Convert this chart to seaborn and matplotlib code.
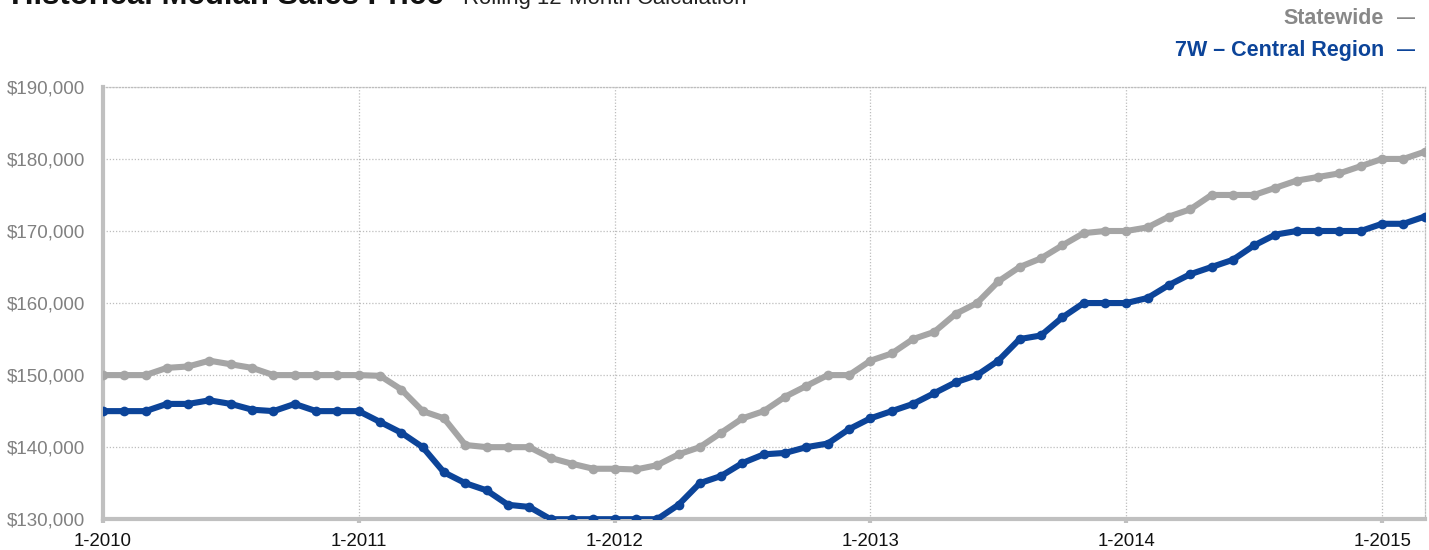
import matplotlib
matplotlib.use('Agg')
import matplotlib.pyplot as plt
import numpy as np
import pandas as pd
import seaborn as sns

sns.set_style('white')
plt.rcParams['font.family'] = ['Liberation Sans', 'DejaVu Sans']

# monthly values, Jan 2010 .. Mar 2015
statewide = [150000, 150000, 150000, 151000, 151200, 152000, 151500, 151000, 150000, 150000, 150000, 150000,
             150000, 149900, 148000, 145000, 144000, 140300, 140000, 140000, 140000, 138500, 137700, 137000,
             137000, 136900, 137500, 139000, 140000, 142000, 144000, 145000, 147000, 148500, 150000, 150000,
             152000, 153000, 155000, 156000, 158500, 160000, 163000, 165000, 166200, 168000, 169700, 170000,
             170000, 170500, 172000, 173000, 175000, 175000, 175000, 176000, 177000, 177500, 178000, 179000,
             180000, 180000, 181000]
central = [145000, 145000, 145000, 146000, 146000, 146500, 146000, 145200, 145000, 146000, 145000, 145000,
           145000, 143500, 142000, 140000, 136500, 135000, 134000, 132000, 131700, 130000, 130000, 130000,
           130000, 130000, 130000, 132000, 135000, 136000, 137800, 139000, 139200, 140000, 140500, 142500,
           144000, 145000, 146000, 147500, 149000, 150000, 152000, 155000, 155500, 158000, 160000, 160000,
           160000, 160700, 162500, 164000, 165000, 166000, 168000, 169500, 170000, 170000, 170000, 170000,
           171000, 171000, 172000]
year_labels = ['1-2010', '1-2011', '1-2012', '1-2013', '1-2014', '1-2015']
y_ticks = [130000, 140000, 150000, 160000, 170000, 180000, 190000]

gray = '#a5a5a5'
blue = '#0c4499'

month = np.arange(len(statewide))
df = pd.DataFrame({
    'month': np.concatenate([month, month]),
    'price': statewide + central,
    'series': ['Statewide'] * len(statewide) + ['7W – Central Region'] * len(central),
})

fig = plt.figure(figsize=(14.29, 5.5), dpi=100)
ax = fig.add_axes([0.072, 0.056, 0.925, 0.786])

sns.lineplot(data=df, x='month', y='price', hue='series',
             palette={'Statewide': gray, '7W – Central Region': blue},
             linewidth=4.4, marker='o', markersize=7, markeredgewidth=0,
             legend=False, ax=ax, zorder=3)

ax.set_xlim(0, len(statewide) - 1)
ax.set_ylim(130000, 190000)
ax.set_xticks(np.arange(0, len(statewide), 12))
ax.set_xticklabels(year_labels, fontsize=13.4, color='#111111')
ax.set_yticks(y_ticks)
ax.set_yticklabels(['${:,}'.format(v) for v in y_ticks], fontsize=13.5, color='#808080')
ax.set_xlabel('')
ax.set_ylabel('')

ax.grid(True, linestyle=(0, (1, 1.5)), color='#bdbdbd', linewidth=0.9)
ax.set_axisbelow(True)
for side in ['left', 'bottom']:
    ax.spines[side].set_color('#c0c0c0')
    ax.spines[side].set_linewidth(3)
for side in ['top', 'right']:
    ax.spines[side].set_color('#bdbdbd')
    ax.spines[side].set_linewidth(0.9)
    ax.spines[side].set_linestyle((0, (1, 1.5)))
ax.tick_params(axis='x', length=3, width=3, color='#c0c0c0', pad=7, bottom=True)
ax.tick_params(axis='y', length=0, pad=13)

fig.text(0.008, 0.9927, 'Historical Median Sales Price', fontsize=22.4, fontweight='bold',
         color='#111111', va='baseline', ha='left')
fig.text(0.324, 0.9927, 'Rolling 12-Month Calculation', fontsize=15.9,
         color='#222222', va='baseline', ha='left')

fig.text(0.9685, 0.967, 'Statewide', fontsize=15.5, fontweight='bold', color='#888888',
         ha='right', va='center')
fig.text(0.990, 0.967, '—', fontsize=13, fontweight='bold', color='#888888',
         ha='right', va='center')
fig.text(0.9685, 0.909, '7W – Central Region', fontsize=15.5, fontweight='bold', color=blue,
         ha='right', va='center')
fig.text(0.990, 0.909, '—', fontsize=13, fontweight='bold', color=blue,
         ha='right', va='center')

fig.savefig('out.png', dpi=100)
